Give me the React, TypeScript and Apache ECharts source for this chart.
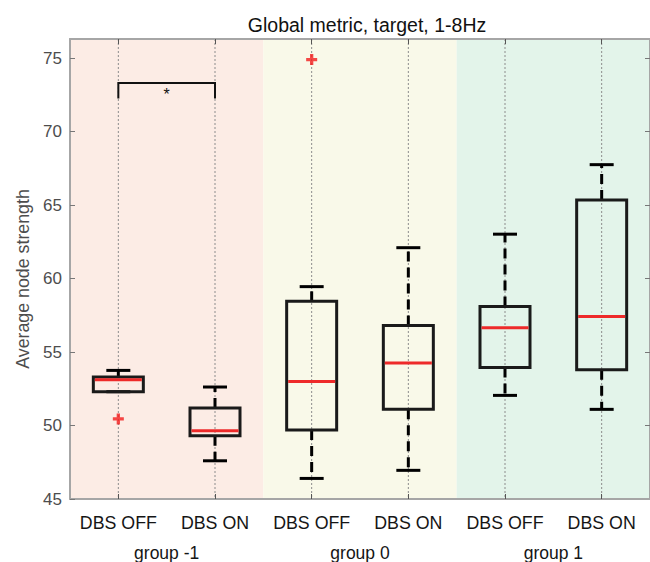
import React, { useEffect, useRef } from "react";
import * as echarts from "echarts";

const categories = ["DBS OFF", "DBS ON", "DBS OFF", "DBS ON", "DBS OFF", "DBS ON"];
const groups = ["group -1", "group 0", "group 1"];
const groupColors = ["#fcece5", "#f9f9e9", "#e3f4ea"];

const whiskerLow = [52.3, 47.6, 46.4, 46.95, 52.05, 51.1];
const q1 = [52.3, 49.3, 49.7, 51.1, 53.95, 53.8];
const medians = [53.12, 49.65, 53.0, 54.25, 56.65, 57.42];
const q3 = [53.3, 51.2, 58.45, 56.8, 58.1, 65.35];
const whiskerHigh = [53.75, 52.62, 59.45, 62.1, 63.02, 67.75];

const outlierIndex = [0, 2];
const outlierValue = [50.45, 74.9];

const sigPairFrom = [0];
const sigPairTo = [1];
const sigLevel = [73.3];
const sigDrop = [72.25];
const sigStarLevel = [72.55];
const sigLabel = ["*"];

const yMin = 45;
const yMax = 76.3;
const yTicks = [45, 50, 55, 60, 65, 70, 75];

const FONT = "'Liberation Sans', Arial, Helvetica, sans-serif";

export default function App() {
  const ref = useRef<HTMLDivElement>(null);

  useEffect(() => {
    if (!ref.current) return;
    const chart = echarts.init(ref.current, null, { renderer: "svg" });

    const boxData = categories.map((_, i) => [
      i,
      whiskerLow[i],
      q1[i],
      medians[i],
      q3[i],
      whiskerHigh[i],
    ]);
    const gridLineData = categories.map((_, i) => [i, yMin]);
    const outlierData = outlierIndex.map((x, i) => [x, outlierValue[i]]);
    const sigData = sigPairFrom.map((a, i) => [
      a,
      sigPairTo[i],
      sigLevel[i],
      sigDrop[i],
      sigStarLevel[i],
    ]);

    const option: any = {
      animation: false,
      textStyle: { fontFamily: FONT },
      title: {
        text: "Global metric, target, 1-8Hz",
        left: 362,
        textAlign: "center",
        top: 10,
        textStyle: { fontSize: 19.5, fontWeight: "normal", color: "#111", fontFamily: FONT },
      },
      grid: { left: 70, top: 39, width: 586, height: 461, containLabel: false },
      xAxis: [
        {
          type: "category",
          data: categories,
          position: "bottom",
          boundaryGap: true,
          axisLine: { show: true, lineStyle: { color: "#a6a6a6", width: 2 } },
          axisTick: { show: true, inside: true, alignWithLabel: true, interval: 0, length: 5, lineStyle: { color: "#555", width: 1 } },
          axisLabel: { fontSize: 17.8, color: "#151515", margin: 15, fontFamily: FONT, interval: 0, hideOverlap: false },
          splitLine: { show: false },
          z: 5,
        },
        {
          type: "category",
          data: groups,
          position: "bottom",
          boundaryGap: true,
          axisLine: { show: false },
          axisTick: { show: false, interval: 0 },
          axisLabel: { fontSize: 17.5, color: "#151515", margin: 45, fontFamily: FONT, interval: 0 },
          splitLine: { show: false, interval: 0 },
          splitArea: { show: true, interval: 0, areaStyle: { color: groupColors } },
        },
        {
          type: "category",
          data: categories,
          position: "top",
          boundaryGap: true,
          axisLine: { show: true, lineStyle: { color: "#a6a6a6", width: 2 } },
          axisTick: { show: true, inside: true, alignWithLabel: true, interval: 0, length: 5, lineStyle: { color: "#555", width: 1 } },
          axisLabel: { show: false, interval: 0 },
          splitLine: { show: false },
          z: 5,
        },
      ],
      yAxis: [
        {
          type: "value",
          min: yMin,
          max: yMax,
          interval: 5,
          position: "left",
          name: "Average node strength",
          nameLocation: "middle",
          nameGap: 37,
          nameTextStyle: { fontSize: 17.8, color: "#4d4d4d", fontFamily: FONT, padding: [0, 20, 0, 0] },
          axisLine: { show: true, lineStyle: { color: "#a6a6a6", width: 2 } },
          axisTick: { show: true, inside: true, length: 5, lineStyle: { color: "#777", width: 1 } },
          axisLabel: {
            fontSize: 17,
            color: "#4d4d4d",
            margin: 8,
            fontFamily: FONT,
            showMaxLabel: false,
            formatter: (v: number) => (yTicks.indexOf(v) >= 0 ? String(v) : ""),
          },
          splitLine: { show: false },
          z: 5,
        },
        {
          type: "value",
          min: yMin,
          max: yMax,
          interval: 5,
          position: "right",
          axisLine: { show: true, lineStyle: { color: "#a6a6a6", width: 2 } },
          axisTick: { show: true, inside: true, length: 5, lineStyle: { color: "#777", width: 1 } },
          axisLabel: { show: false },
          splitLine: { show: false },
        },
      ],
      series: [
        {
          type: "custom",
          name: "gridlines",
          xAxisIndex: 0,
          yAxisIndex: 0,
          silent: true,
          z: 1,
          encode: { x: 0, y: 1 },
          data: gridLineData,
          renderItem: (params: any, api: any) => {
            const x = api.coord([api.value(0), yMin])[0];
            const cs = params.coordSys;
            return {
              type: "line",
              shape: { x1: x, y1: cs.y, x2: x, y2: cs.y + cs.height },
              style: { stroke: "#8c8c8c", lineWidth: 1, lineDash: [2, 2] },
            };
          },
        },
        {
          type: "custom",
          name: "boxes",
          xAxisIndex: 0,
          yAxisIndex: 0,
          silent: true,
          z: 3,
          encode: { x: 0, y: [1, 2, 3, 4, 5] },
          data: boxData,
          renderItem: (params: any, api: any) => {
            const i = api.value(0);
            const cx = api.coord([i, yMin])[0];
            const yLo = api.coord([i, api.value(1)])[1];
            const yQ1 = api.coord([i, api.value(2)])[1];
            const yMed = api.coord([i, api.value(3)])[1];
            const yQ3 = api.coord([i, api.value(4)])[1];
            const yHi = api.coord([i, api.value(5)])[1];
            const halfBox = 25;
            const halfCap = 12;
            const black = "#000";
            const lw = 3;
            return {
              type: "group",
              children: [
                {
                  type: "line",
                  shape: { x1: cx, y1: yQ3, x2: cx, y2: yHi },
                  style: { stroke: black, lineWidth: lw, lineDash: [10, 6] },
                },
                {
                  type: "line",
                  shape: { x1: cx, y1: yQ1, x2: cx, y2: yLo },
                  style: { stroke: black, lineWidth: lw, lineDash: [10, 6] },
                },
                {
                  type: "line",
                  shape: { x1: cx - halfCap, y1: yHi, x2: cx + halfCap, y2: yHi },
                  style: { stroke: black, lineWidth: lw },
                },
                {
                  type: "line",
                  shape: { x1: cx - halfCap, y1: yLo, x2: cx + halfCap, y2: yLo },
                  style: { stroke: black, lineWidth: lw },
                },
                {
                  type: "rect",
                  shape: { x: cx - halfBox, y: yQ3, width: 2 * halfBox, height: yQ1 - yQ3 },
                  style: { fill: "none", stroke: "#1a1a1a", lineWidth: lw },
                },
                {
                  type: "line",
                  shape: { x1: cx - halfBox + 1.5, y1: yMed, x2: cx + halfBox - 1.5, y2: yMed },
                  style: { stroke: "#ee2a2a", lineWidth: lw },
                },
              ],
            };
          },
        },
        {
          type: "scatter",
          name: "outliers",
          xAxisIndex: 0,
          yAxisIndex: 0,
          silent: true,
          z: 4,
          symbol: "path://M3.5,0H6.5V3.5H10V6.5H6.5V10H3.5V6.5H0V3.5H3.5Z",
          symbolSize: 11,
          itemStyle: { color: "#f21c1c" },
          data: outlierData,
        },
        {
          type: "custom",
          name: "significance",
          xAxisIndex: 0,
          yAxisIndex: 0,
          silent: true,
          z: 4,
          encode: { x: [0, 1], y: [2, 3, 4] },
          data: sigData,
          renderItem: (params: any, api: any) => {
            const a = api.coord([api.value(0), api.value(2)]);
            const b = api.coord([api.value(1), api.value(2)]);
            const drop = api.coord([api.value(0), api.value(3)])[1];
            const star = api.coord([api.value(0), api.value(4)])[1];
            return {
              type: "group",
              children: [
                {
                  type: "polyline",
                  shape: { points: [[a[0], drop], [a[0], a[1]], [b[0], b[1]], [b[0], drop]] },
                  style: { stroke: "#111", lineWidth: 2, fill: "none" },
                },
                {
                  type: "text",
                  style: {
                    x: (a[0] + b[0]) / 2,
                    y: star,
                    text: sigLabel[params.dataIndex],
                    fontSize: 16,
                    fontFamily: FONT,
                    fill: "#111",
                    align: "center",
                    verticalAlign: "middle",
                  },
                },
              ],
            };
          },
        },
      ],
    };

    chart.setOption(option);
    return () => chart.dispose();
  }, []);

  return (
    <div
      ref={ref}
      style={{ position: "fixed", left: 0, top: 0, width: 650, height: 562, background: "#fff" }}
    />
  );
}
